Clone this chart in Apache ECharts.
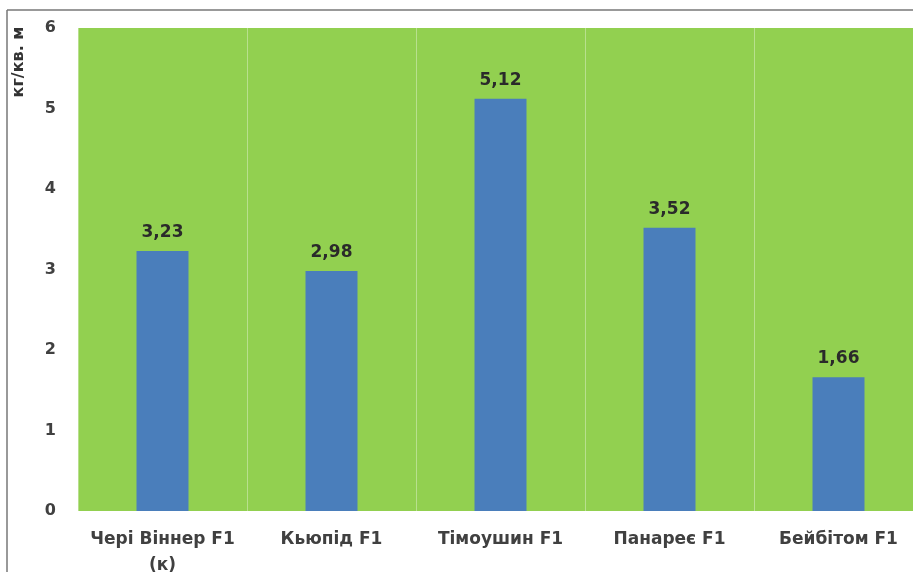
<!DOCTYPE html>
<html>
<head>
<meta charset="utf-8">
<script src="https://cdn.jsdelivr.net/npm/echarts@6/dist/echarts.min.js"></script>
<style>
  html, body { margin: 0; padding: 0; background: #fff; }
  #chart { width: 913px; height: 572px; }
</style>
</head>
<body>
<div id="chart"></div>
<script>
const categories = ['Черi Вiннер F1\n(к)', 'Кьюпiд F1', 'Тiмоушин F1', 'Панареє F1', 'Бейбiтом F1'];
const yields = [3.23, 2.98, 5.12, 3.52, 1.66];
const yTicks = [0, 1, 2, 3, 4, 5, 6];

const chart = echarts.init(document.getElementById('chart'));
const font = '"DejaVu Sans", Verdana, sans-serif';

chart.setOption({
  backgroundColor: '#fff',
  animation: false,
  grid: { left: 78, top: 28, width: 845, bottom: 61, outerBoundsMode: 'none' },
  graphic: [
    { type: 'line', shape: { x1: 7, y1: 10, x2: 930, y2: 10 }, style: { stroke: '#777', lineWidth: 1.5 } },
    { type: 'line', shape: { x1: 7, y1: 10, x2: 7, y2: 580 }, style: { stroke: '#777', lineWidth: 1.5 } },
    {
      type: 'text', x: 19, y: 62, rotation: Math.PI / 2,
      style: { text: 'кг/кв. м', fill: '#333', font: 'bold 16px ' + font, align: 'center', verticalAlign: 'middle' }
    }
  ],
  xAxis: {
    type: 'category',
    data: categories,
    axisLine: { show: false },
    axisTick: { show: false },
    splitLine: { show: true, interval: 0, lineStyle: { color: 'rgba(255,255,255,0.35)', width: 1 } },
    splitArea: { show: true, areaStyle: { color: ['#92d050'] } },
    axisLabel: {
      interval: 0, margin: 16, color: '#404040', fontWeight: 'bold',
      fontSize: 17, fontFamily: font, lineHeight: 26
    }
  },
  yAxis: {
    type: 'value',
    min: yTicks[0],
    max: yTicks[yTicks.length - 1],
    interval: 1,
    axisLine: { show: false },
    axisTick: { show: false },
    splitLine: { lineStyle: { color: 'rgba(255,255,255,0.35)', width: 1.5 } },
    axisLabel: { margin: 22, color: '#404040', fontWeight: 'bold', fontSize: 16, fontFamily: font }
  },
  series: [{
    type: 'bar',
    data: yields,
    barWidth: 52,
    itemStyle: { color: '#4a7ebb' },
    label: {
      show: true, position: 'top', distance: 10,
      color: '#2a2a2a', fontWeight: 'bold', fontSize: 17, fontFamily: font,
      formatter: p => p.value.toFixed(2).replace('.', ',')
    }
  }]
});
</script>
</body>
</html>
